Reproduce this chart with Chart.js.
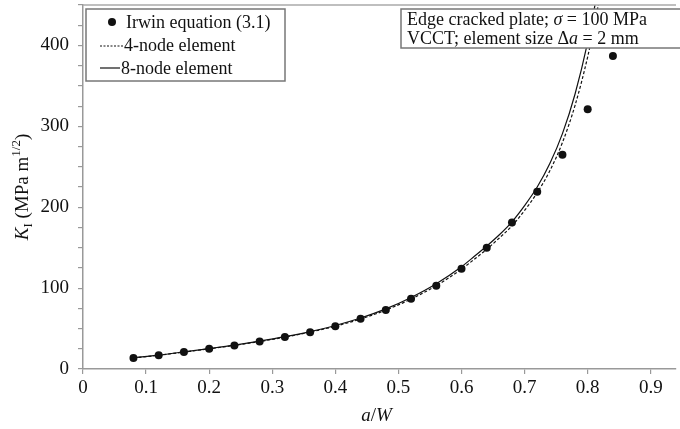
<!DOCTYPE html>
<html>
<head>
<meta charset="utf-8">
<script src="https://cdn.jsdelivr.net/npm/chart.js@4.4.1/dist/chart.umd.min.js"></script>
<style>
body { margin: 0; background: #fff; overflow: hidden; }
#kchart { display: block; }
</style>
</head>
<body>
<canvas id="kchart" width="680" height="429"></canvas>
<script>
// crack length ratio a/W and stress intensity K_I (MPa m^1/2)
var irwinX = [0.08, 0.12, 0.16, 0.20, 0.24, 0.28, 0.32, 0.36, 0.40, 0.44,
              0.48, 0.52, 0.56, 0.60, 0.64, 0.68, 0.72, 0.76, 0.80, 0.84];
var irwinK = [13.5, 17, 21, 25, 29, 34, 39.5, 45.5, 53, 62,
              73, 87, 103, 124, 150, 181, 219, 265, 321, 387];

var feX  = [0.08, 0.12, 0.16, 0.20, 0.24, 0.28, 0.32, 0.36, 0.40, 0.44, 0.48, 0.52,
            0.56, 0.60, 0.62, 0.64, 0.66, 0.68, 0.70, 0.72, 0.74, 0.76, 0.78, 0.80, 0.82];
var fe4K = [13.6, 17, 20.9, 25, 29.2, 34, 39.4, 45.6, 52.9, 61.8, 72.8, 86.5,
            103, 123.5, 135.5, 148, 162, 177, 196, 218, 245, 280, 326, 386, 462];
var fe8K = [13.8, 17.2, 21.2, 25.3, 29.6, 34.5, 40, 46.3, 53.8, 63, 74.3, 88.5,
            105.5, 126.5, 139, 152, 166, 182, 202, 225, 254, 291, 340, 404, 485];

var xTicks = [0, 0.1, 0.2, 0.3, 0.4, 0.5, 0.6, 0.7, 0.8, 0.9];
var yLabels = [0, 100, 200, 300, 400];

var SERIF = '"Liberation Serif", "Times New Roman", serif';
function font(size, italic) {
    return (italic ? 'italic ' : '') + size + 'px ' + SERIF;
}

function points(xs, ys) {
    return xs.map(function(x, i){ return { x: x, y: ys[i] }; });
}

// draw a row of text pieces with their own font / vertical shift
function runsWidth(ctx, runs) {
    var w = 0;
    runs.forEach(function(r){ ctx.font = r.font; w += ctx.measureText(r.t).width; });
    return w;
}
function drawRuns(ctx, x, y, runs) {
    runs.forEach(function(r){
        ctx.font = r.font;
        ctx.fillText(r.t, x, y + (r.dy || 0));
        x += ctx.measureText(r.t).width;
    });
    return x;
}

var decorations = {
    id: 'decorations',
    afterDatasetsDraw: function(chart){
        var ctx = chart.ctx;
        var area = chart.chartArea;
        ctx.save();

        // frame line along the top of the plot
        ctx.strokeStyle = '#aaa';
        ctx.lineWidth = 1.5;
        ctx.beginPath();
        ctx.moveTo(area.left, area.top);
        ctx.lineTo(area.right, area.top);
        ctx.stroke();

        ctx.fillStyle = '#111';
        ctx.textBaseline = 'alphabetic';
        ctx.textAlign = 'left';

        // legend
        var ds = chart.data.datasets;
        ctx.fillStyle = '#fff';
        ctx.fillRect(86, 9, 199, 72);
        ctx.strokeStyle = '#777';
        ctx.lineWidth = 1.5;
        ctx.strokeRect(86, 9, 199, 72);
        ctx.fillStyle = '#111';
        ctx.beginPath();
        ctx.arc(112, 22, 4, 0, Math.PI * 2);
        ctx.fill();
        ctx.font = font(18);
        ctx.fillText(ds[0].label, 126, 28);

        ctx.strokeStyle = '#111';
        ctx.lineWidth = 1.2;
        ctx.setLineDash([2, 1.5]);
        ctx.beginPath();
        ctx.moveTo(100, 46);
        ctx.lineTo(124, 46);
        ctx.stroke();
        ctx.fillText(ds[1].label, 124, 51);

        ctx.setLineDash([]);
        ctx.beginPath();
        ctx.moveTo(100, 68);
        ctx.lineTo(120, 68);
        ctx.stroke();
        ctx.fillText(ds[2].label, 121, 74);

        // case description box
        ctx.fillStyle = '#fff';
        ctx.fillRect(401, 9, 300, 39);
        ctx.strokeStyle = '#777';
        ctx.lineWidth = 1.5;
        ctx.strokeRect(401, 9, 300, 39);
        ctx.fillStyle = '#111';
        drawRuns(ctx, 407, 25, [
            { t: 'Edge cracked plate; ', font: font(18) },
            { t: '\u03c3', font: font(18, true) },
            { t: ' = 100 MPa', font: font(18) }
        ]);
        drawRuns(ctx, 407, 44, [
            { t: 'VCCT; element size \u0394', font: font(18) },
            { t: 'a', font: font(18, true) },
            { t: ' = 2 mm', font: font(18) }
        ]);

        // axis titles
        var xt = [
            { t: 'a', font: font(19, true) },
            { t: '/', font: font(19) },
            { t: 'W', font: font(19, true) }
        ];
        var cx = (area.left + area.right) / 2;
        drawRuns(ctx, cx - runsWidth(ctx, xt) / 2 - 3, 421, xt);

        var yt = [
            { t: 'K', font: font(19, true) },
            { t: 'I', font: font(13), dy: 4 },
            { t: ' (MPa m', font: font(19) },
            { t: '1/2', font: font(13), dy: -8 },
            { t: ')', font: font(19) }
        ];
        ctx.translate(28, (area.top + area.bottom) / 2);
        ctx.rotate(-Math.PI / 2);
        drawRuns(ctx, -runsWidth(ctx, yt) / 2, 0, yt);

        ctx.restore();
    }
};

new Chart(document.getElementById('kchart'), {
    type: 'line',
    data: {
        datasets: [
            {
                label: 'Irwin equation (3.1)',
                data: points(irwinX, irwinK),
                showLine: false,
                pointRadius: 4,
                pointBackgroundColor: '#111',
                pointBorderColor: '#111',
                pointBorderWidth: 0
            },
            {
                label: '4-node element',
                data: points(feX, fe4K),
                borderColor: '#111',
                borderWidth: 1.2,
                borderDash: [3, 2],
                pointRadius: 0,
                cubicInterpolationMode: 'monotone'
            },
            {
                label: '8-node element',
                data: points(feX, fe8K),
                borderColor: '#111',
                borderWidth: 1.2,
                pointRadius: 0,
                cubicInterpolationMode: 'monotone'
            }
        ]
    },
    options: {
        responsive: false,
        animation: false,
        devicePixelRatio: 1,
        layout: { padding: { left: 0, top: 5, right: 0, bottom: 0 } },
        plugins: {
            legend: { display: false },
            tooltip: { enabled: false }
        },
        scales: {
            x: {
                type: 'linear',
                min: 0,
                max: 0.94,
                afterBuildTicks: function(scale){
                    scale.ticks = xTicks.map(function(v){ return { value: v }; });
                },
                afterFit: function(scale){
                    scale.height = 60;
                    scale.paddingLeft = 0;
                    scale.paddingRight = 0;
                },
                grid: { drawOnChartArea: false, drawTicks: true, tickLength: 5, color: '#999', lineWidth: 1.2 },
                border: { display: true, color: '#999', width: 1.5 },
                ticks: {
                    autoSkip: false,
                    maxRotation: 0,
                    padding: 3,
                    color: '#111',
                    font: { family: SERIF, size: 19 },
                    callback: function(v){ return v === 0 ? '0' : v.toFixed(1); }
                }
            },
            y: {
                min: 0,
                max: 450,
                afterFit: function(scale){
                    scale.width = 83;
                    scale.paddingTop = 0;
                    scale.paddingBottom = 0;
                },
                grid: { drawOnChartArea: false, drawTicks: true, tickLength: 5, color: '#999', lineWidth: 1.2 },
                border: { display: true, color: '#999', width: 1.5 },
                ticks: {
                    stepSize: 25,
                    autoSkip: false,
                    padding: 9,
                    color: '#111',
                    font: { family: SERIF, size: 19 },
                    callback: function(v){ return yLabels.indexOf(v) >= 0 ? String(v) : ''; }
                }
            }
        }
    },
    plugins: [decorations]
});
</script>
</body>
</html>
